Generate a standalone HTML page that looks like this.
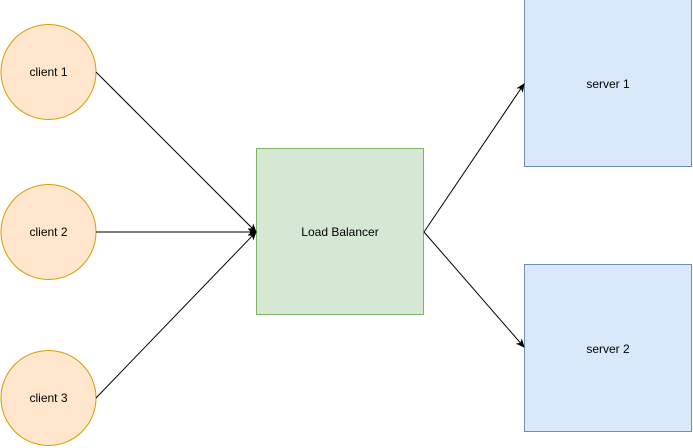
<!DOCTYPE html>
<html><head><style>body{margin:0;background:#fff}svg{display:block}</style></head><body>
<svg width="693" height="448" xmlns="http://www.w3.org/2000/svg" font-family="Liberation Sans, sans-serif" font-size="12">
<defs><marker id="a" markerWidth="10" markerHeight="10" refX="8" refY="4" orient="auto" markerUnits="userSpaceOnUse"><path d="M0,0 L9,4 L0,8 L2.5,4 Z" fill="#000"/></marker></defs>
<g fill="#ffe6cc" stroke="#d79b00">
<circle cx="48.5" cy="72" r="47.5"/><circle cx="48.5" cy="232" r="47.5"/><circle cx="48.5" cy="398" r="47.5"/>
</g>
<rect x="256.5" y="148.5" width="167" height="166" fill="#d5e8d4" stroke="#82b366"/>
<rect x="524.5" y="-0.5" width="167" height="167" fill="#dae8fc" stroke="#6c8ebf"/>
<rect x="524.5" y="264.5" width="167" height="167" fill="#dae8fc" stroke="#6c8ebf"/>
<g stroke="#000" fill="none" marker-end="url(#a)">
<line x1="96" y1="72" x2="256" y2="232"/>
<line x1="96" y1="232" x2="256" y2="232"/>
<line x1="96" y1="398" x2="256" y2="232"/>
<line x1="424" y1="232" x2="524" y2="84"/>
<line x1="424" y1="232" x2="524" y2="347"/>
</g>
<g text-anchor="middle" fill="#000">
<text x="48.5" y="76">client 1</text><text x="48.5" y="236">client 2</text><text x="48.5" y="402">client 3</text>
<text x="340" y="236">Load Balancer</text>
<text x="608" y="88">server 1</text><text x="608" y="353">server 2</text>
</g>
</svg>
</body></html>
